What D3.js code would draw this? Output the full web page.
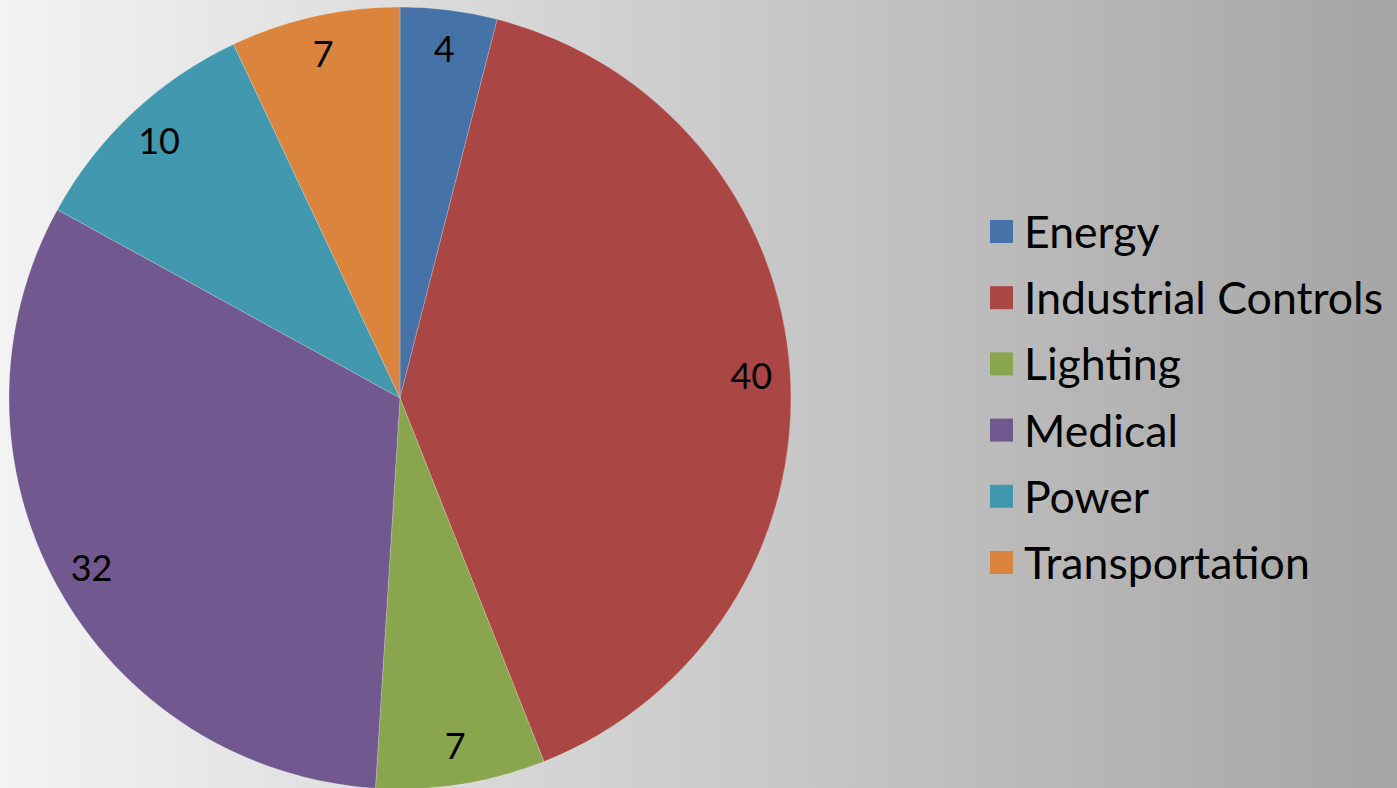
<!DOCTYPE html>
<html>
<head>
<meta charset="utf-8">
<script src="https://cdn.jsdelivr.net/npm/d3@7"></script>
<style>
  html, body { margin: 0; padding: 0; overflow: hidden; }
  svg { display: block; }
</style>
</head>
<body>
<div id="container"></div>
<script>
// chart data
var categories = ["Energy", "Industrial Controls", "Lighting", "Medical", "Power", "Transportation"];
var values = [4, 40, 7, 32, 10, 7];
var colors = ["#4572a7", "#aa4643", "#89a54e", "#71588f", "#4198af", "#db843d"];

var Chart = {
    WIDTH: 1397,
    HEIGHT: 788,
    CX: 400,
    CY: 398,
    RADIUS: 391,
    LABEL_RADIUS: 352,
    LEGEND_X: 990,
    LEGEND_Y: 220,
    LEGEND_STEP: 66.2,
    SWATCH: 23,
    FONT: "Lato, 'Open Sans', 'DejaVu Sans', sans-serif"
};

var svg = d3.select("#container").append("svg")
        .attr("width", Chart.WIDTH)
        .attr("height", Chart.HEIGHT);

// background gradient
var grad = svg.append("defs").append("linearGradient")
        .attr("id", "bg")
        .attr("x1", "0").attr("y1", "0")
        .attr("x2", "1").attr("y2", "0");
grad.append("stop").attr("offset", "0").attr("stop-color", "#f3f3f3");
grad.append("stop").attr("offset", "1").attr("stop-color", "#a5a5a5");

svg.append("rect")
        .attr("width", Chart.WIDTH)
        .attr("height", Chart.HEIGHT)
        .style("fill", "url(#bg)");

var pie = d3.pie().sort(null).value(function (d) { return d; });
var arcs = pie(values);

var arc = d3.arc().innerRadius(0).outerRadius(Chart.RADIUS);
var labelArc = d3.arc().innerRadius(Chart.LABEL_RADIUS).outerRadius(Chart.LABEL_RADIUS);

var pieGroup = svg.append("g")
        .attr("transform", "translate(" + Chart.CX + "," + Chart.CY + ")");

pieGroup.selectAll("path")
        .data(arcs)
        .enter().append("path")
        .attr("d", arc)
        .style("fill", function (d, i) { return colors[i]; })
        .style("stroke", "rgba(255,255,255,0.35)")
        .style("stroke-width", "0.6");

pieGroup.selectAll("text")
        .data(arcs)
        .enter().append("text")
        .attr("transform", function (d) { return "translate(" + labelArc.centroid(d) + ")"; })
        .attr("text-anchor", "middle")
        .attr("dy", "0.36em")
        .attr("font-family", Chart.FONT)
        .attr("font-size", "36px")
        .style("fill", "#000")
        .text(function (d) { return d.data; });

// legend
var legend = svg.append("g");
var rows = legend.selectAll("g")
        .data(categories)
        .enter().append("g")
        .attr("transform", function (d, i) {
            return "translate(" + Chart.LEGEND_X + "," + (Chart.LEGEND_Y + i * Chart.LEGEND_STEP) + ")";
        });

rows.append("rect")
        .attr("width", Chart.SWATCH)
        .attr("height", Chart.SWATCH)
        .style("fill", function (d, i) { return colors[i]; });

var labels = rows.append("text")
        .attr("x", 34)
        .attr("y", 28)
        .attr("font-family", Chart.FONT)
        .attr("font-size", "40px")
        .style("fill", "#000")
        .text(function (d) { return d; });

// fit the widest label to the width seen in the reference
var widest = labels.filter(function (d) { return d === "Industrial Controls"; }).node();
var w = widest.getComputedTextLength();
var size = 40 * 359 / w;
labels.attr("font-size", size + "px");
</script>
</body>
</html>
